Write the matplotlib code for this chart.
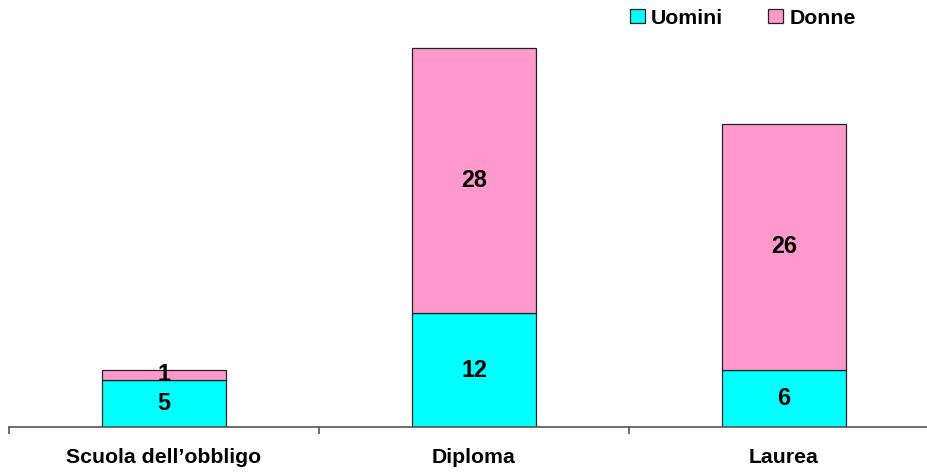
import numpy as np
import matplotlib.pyplot as plt
from matplotlib.patches import Patch

plt.rcParams['font.family'] = ['Liberation Sans', 'DejaVu Sans']

# Data
categories = ['Scuola dell\u2019obbligo', 'Diploma', 'Laurea']
uomini = [5, 12, 6]
donne = [1, 28, 26]

fs = 15.3

fig = plt.figure(figsize=(9.28, 4.73), dpi=100)
# axes spans one category band per bar; right edge runs slightly past the figure
ax = fig.add_axes([9 / 928, 46 / 473, 930 / 928, 400 / 473])

x = np.arange(len(categories))
w = 0.4
b1 = ax.bar(x, uomini, w, color='#00FFFF', edgecolor='#222222', linewidth=0.9)
b2 = ax.bar(x, donne, w, bottom=uomini, color='#FF99CC', edgecolor='#222222', linewidth=0.9)

for i in range(len(categories)):
    ax.text(x[i], uomini[i] / 2, str(uomini[i]), ha='center', va='center',
            fontsize=16.8, fontweight='bold')
    ax.text(x[i], uomini[i] + donne[i] / 2, str(donne[i]), ha='center', va='center',
            fontsize=16.8, fontweight='bold')

ax.set_xlim(-0.5, 2.5)
ax.set_ylim(0, 400 / 9.475)

for s in ['top', 'right', 'left']:
    ax.spines[s].set_visible(False)
ax.spines['bottom'].set_color('#555555')
ax.spines['bottom'].set_linewidth(1.2)
ax.set_yticks([])

ax.set_xticks([-0.5, 0.5, 1.5, 2.5], minor=True)
ax.set_xticks(x)
ax.set_xticklabels(categories, fontsize=fs, fontweight='bold')
ax.tick_params(axis='x', which='major', length=0, pad=15)
ax.tick_params(axis='x', which='minor', length=5, width=1.2, color='#555555', direction='out')

handles = [Patch(facecolor='#00FFFF', edgecolor='#222222', linewidth=0.9),
           Patch(facecolor='#FF99CC', edgecolor='#222222', linewidth=0.9)]
fig.legend(handles, ['Uomini', 'Donne'], loc='center left', bbox_to_anchor=(630 / 928, 1 - 18 / 473),
           ncol=2, frameon=False, prop={'weight': 'bold', 'size': fs},
           handlelength=0.7, handleheight=0.7, handletextpad=0.3, columnspacing=2.1,
           borderpad=0, borderaxespad=0)

fig.savefig('out.png', dpi=100)
